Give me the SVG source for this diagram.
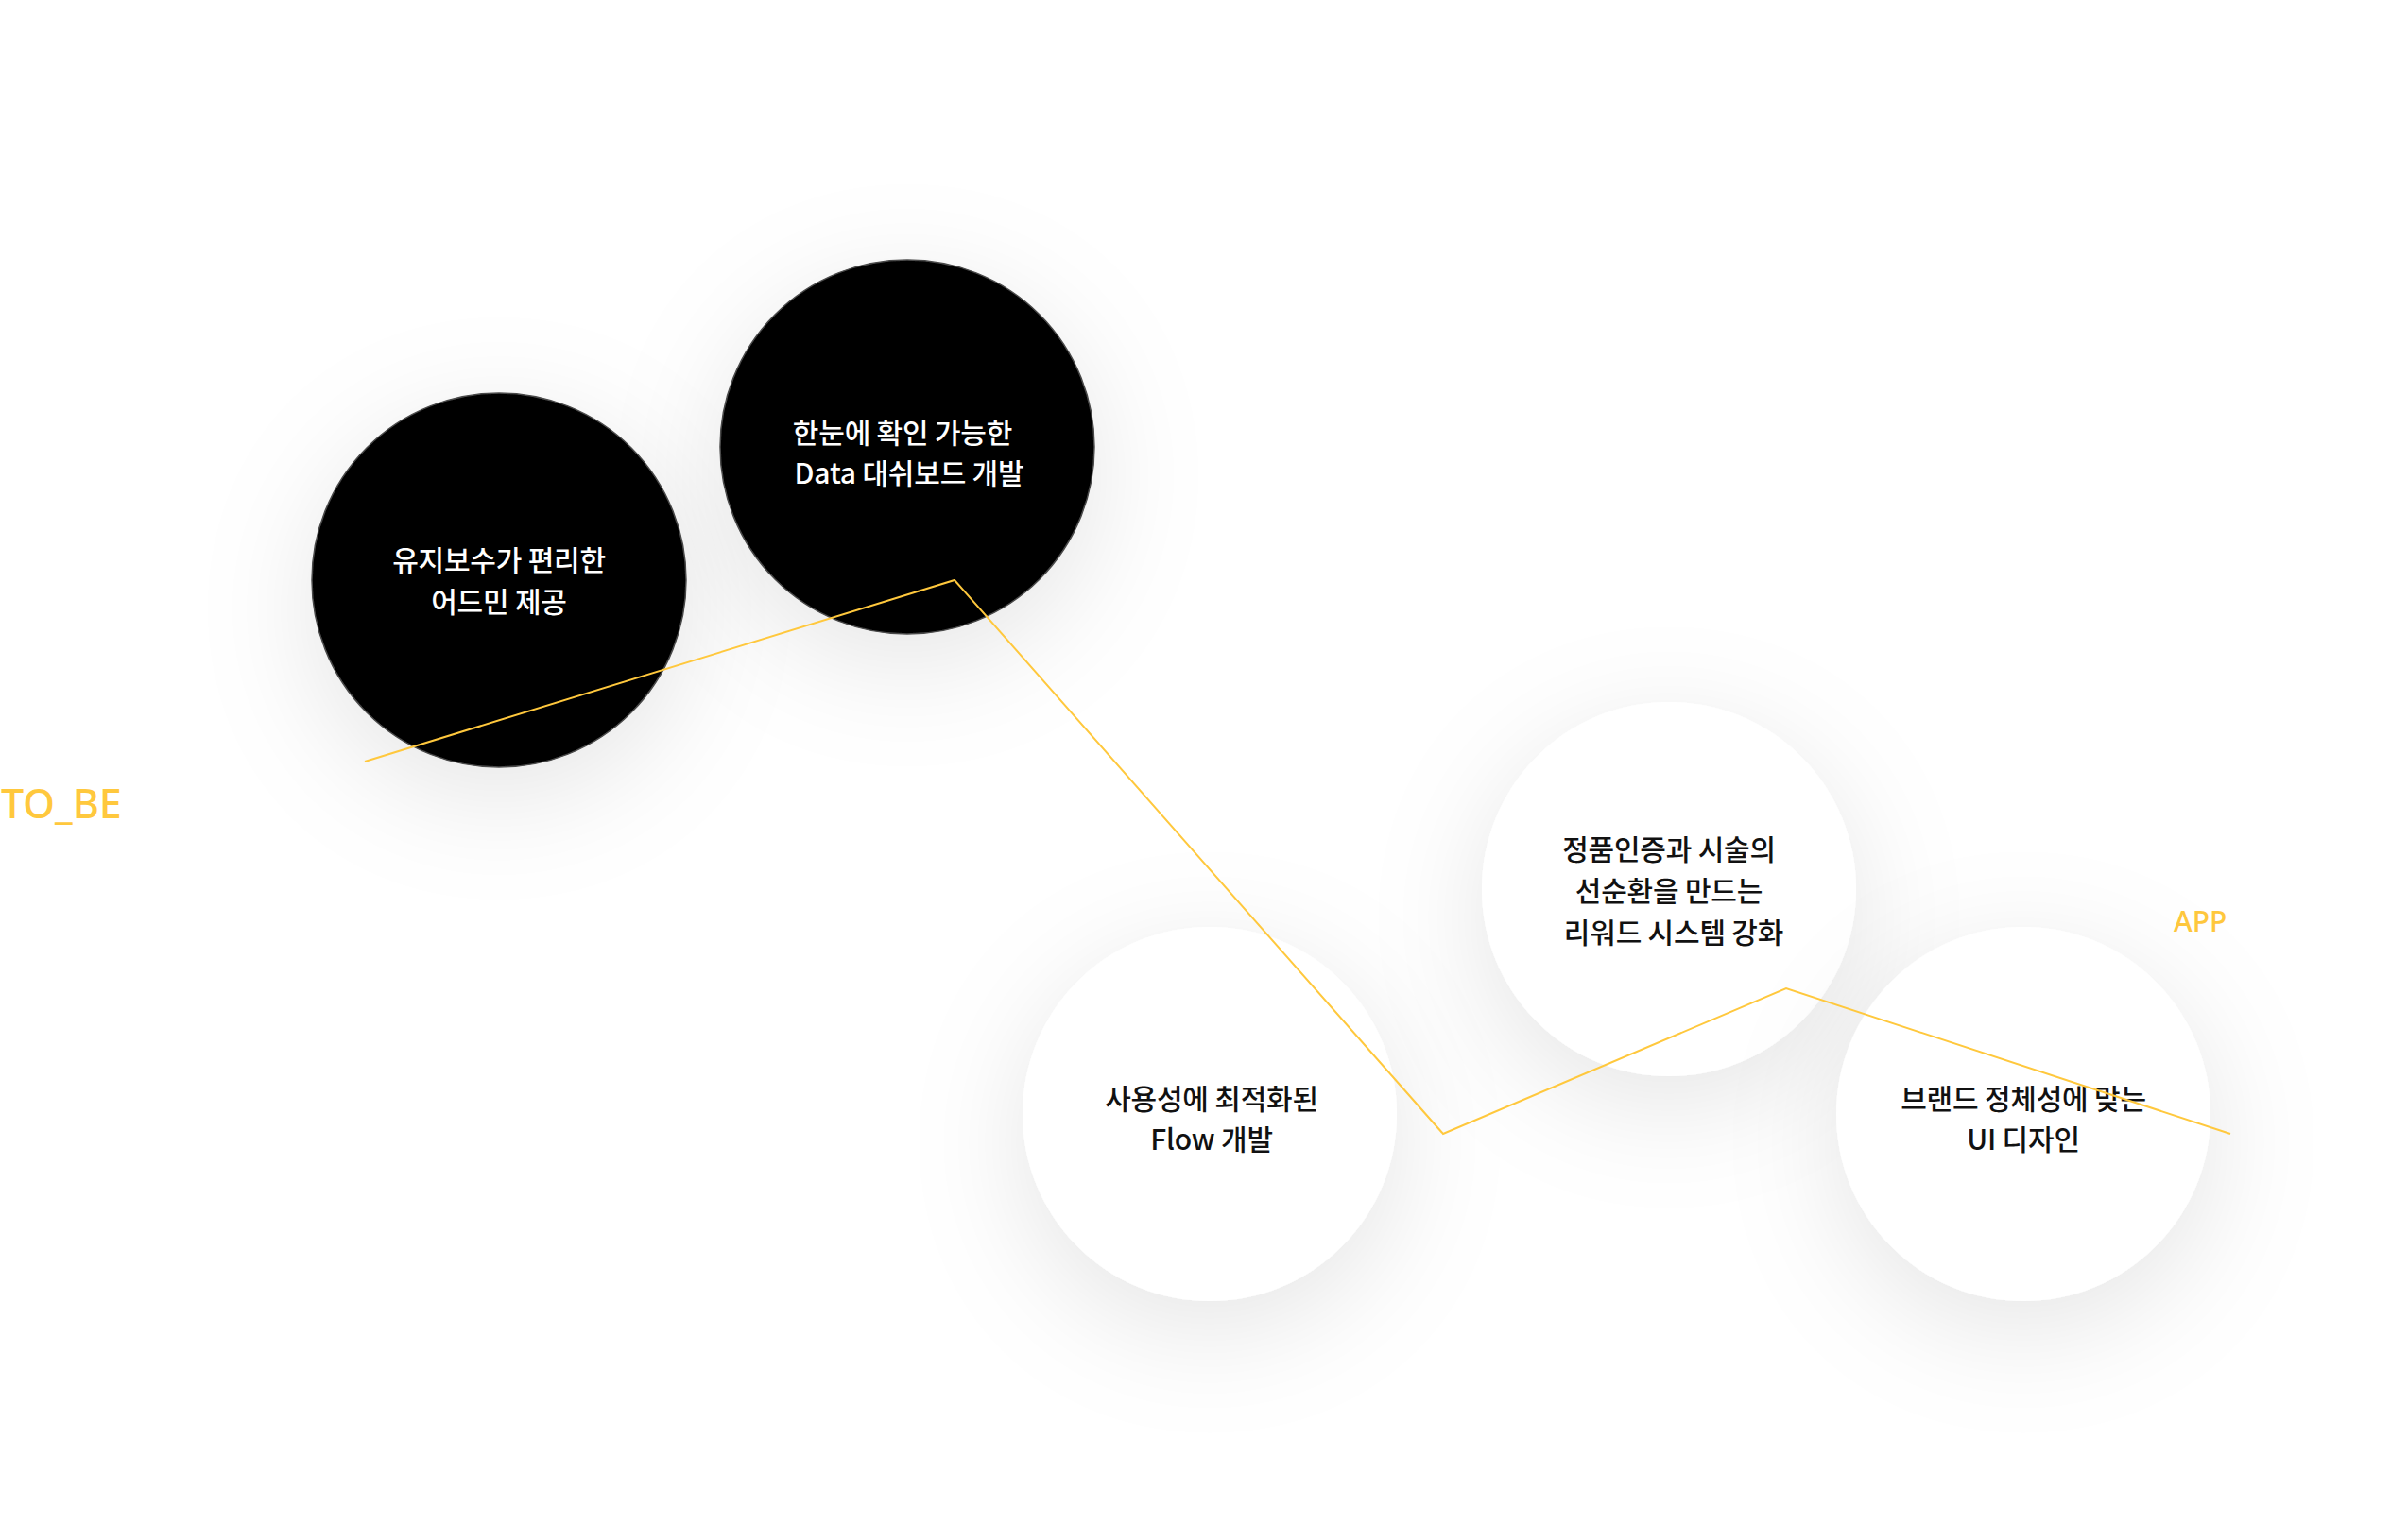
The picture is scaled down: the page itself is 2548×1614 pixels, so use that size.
<svg xmlns="http://www.w3.org/2000/svg" width="2548" height="1614" viewBox="0 0 2548 1614">
<defs>
<filter id="sh" x="-70%" y="-70%" width="240%" height="240%">
<feDropShadow dx="0" dy="30" stdDeviation="60" flood-color="#000" flood-opacity="0.10"/>
</filter>
<style>
.dark{fill:#000;stroke:#4a4a4a;stroke-width:1.5}
.light{fill:#fff}
.t{font-family:"Noto Sans CJK KR","Noto Sans",sans-serif;font-size:30px;font-weight:500;text-anchor:middle;letter-spacing:-0.2px}
.tw{fill:#fff}
.tb{fill:#111}
.lab{font-family:"Noto Sans","Liberation Sans",sans-serif;font-weight:500;fill:#FFC83D}
.conn{fill:none;stroke:#FFC83D;stroke-width:2}
</style>
</defs>
<rect width="2548" height="1614" fill="#fff"/>
<g id="label-tobe"><text class="lab" x="1" y="866" font-size="43">TO_BE</text></g>
<g id="label-app"><text class="lab" x="2300" y="986" font-size="30">APP</text></g>
<g id="node-admin">
<circle class="dark" cx="528" cy="614" r="198" filter="url(#sh)"/>
<text class="t tw"><tspan x="528" y="604">유지보수가 편리한</tspan><tspan x="528" y="648">어드민 제공</tspan></text>
</g>
<g id="node-dashboard">
<circle class="dark" cx="960" cy="473" r="198" filter="url(#sh)"/>
<text class="t tw"><tspan x="955" y="469">한눈에 확인 가능한</tspan><tspan x="962" y="512">Data 대쉬보드 개발</tspan></text>
</g>
<g id="node-flow">
<circle class="light" cx="1280" cy="1179" r="198" filter="url(#sh)"/>
<text class="t tb"><tspan x="1282" y="1174">사용성에 최적화된</tspan><tspan x="1282" y="1217">Flow 개발</tspan></text>
</g>
<g id="node-reward">
<circle class="light" cx="1766" cy="941" r="198" filter="url(#sh)"/>
<text class="t tb"><tspan x="1766" y="910">정품인증과 시술의</tspan><tspan x="1766" y="954">선순환을 만드는</tspan><tspan x="1771" y="998">리워드 시스템 강화</tspan></text>
</g>
<g id="node-ui">
<circle class="light" cx="2141" cy="1179" r="198" filter="url(#sh)"/>
<text class="t tb"><tspan x="2141" y="1174">브랜드 정체성에 맞는</tspan><tspan x="2141" y="1217">UI 디자인</tspan></text>
</g>
<g id="connectors">
<polyline class="conn" points="386,806 1010,614 1527,1200 1890,1046 2360,1200"/>
</g>
</svg>
